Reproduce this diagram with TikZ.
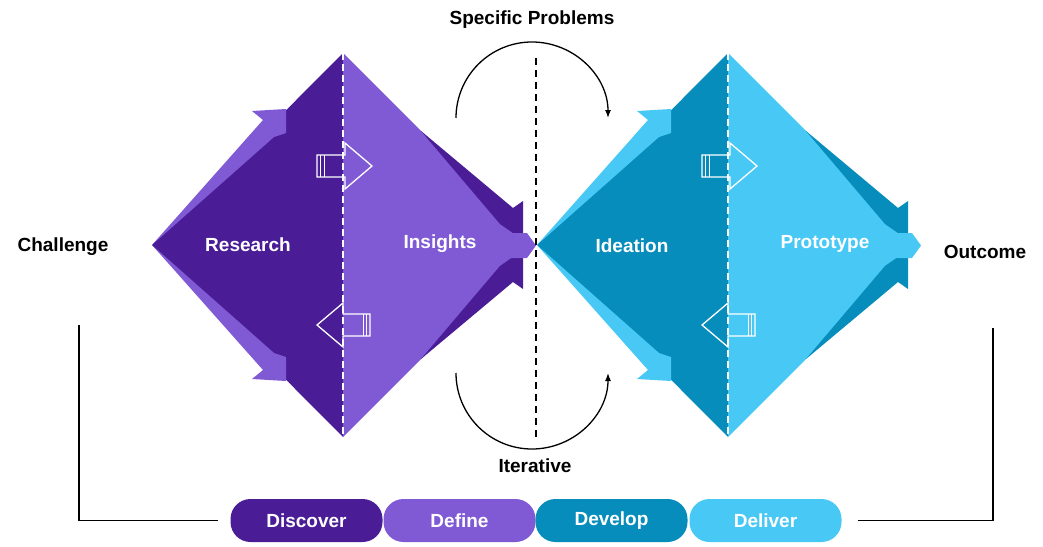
\documentclass[tikz,border=0pt]{standalone}
\usepackage{fontspec}
\setmainfont{Liberation Sans}
\usetikzlibrary{arrows.meta}

\definecolor{dpurple}{HTML}{4A1D96}
\definecolor{lpurple}{HTML}{805AD5}
\definecolor{dteal}{HTML}{068DBB}
\definecolor{lcyan}{HTML}{48C8F5}

% one diamond: #1 = colour of the first half, #2 = colour of the second half
\newcommand{\ddiamond}[2]{%
\fill[#1](152,245)--(343,53)--(343,437)--cycle;
\fill[#2](343,53)--(535,245)--(343,437)--cycle;
\fill[#2](152,245)--(263,120)--(252,111)--(286,109)--(286,133)--(274,137)--cycle;
\fill[#2](152,245)--(263,370)--(252,379)--(286,381)--(286,357)--(274,353)--cycle;
\fill[#1](421,131)--(513,208)--(523,201)--(523,240)--(500,224)--cycle;
\fill[#1](421,359)--(513,282)--(523,289)--(523,250)--(500,266)--cycle;
\fill[#2](480,233)--(527,233)--(536,245.5)--(527,258)--(480,258)--cycle;
\draw[white,line width=1.8pt,dash pattern=on 7pt off 4pt](343,53)--(343,437);
\draw[blockarr](317,155)--(345,155)--(345,143)--(372,166)--(345,189)--(345,177)--(317,177)--cycle;
\draw[blockarr,line width=0.9pt](320.5,155)--(320.5,177)(324,155)--(324,177);
\draw[blockarr](317,325)--(343,303)--(343,314)--(370,314)--(370,336)--(343,336)--(343,347)--cycle;
\draw[blockarr,line width=0.9pt](366.5,314)--(366.5,336)(363,314)--(363,336);
}

\begin{document}
\begin{tikzpicture}[x=1pt,y=-1pt,>={Latex[length=8pt,width=6pt]},
  blockarr/.style={white,line width=1.3pt,line join=miter},
  lbl/.style={white,font=\fontsize{19}{22}\selectfont\bfseries},
  side/.style={black,font=\fontsize{19}{22}\selectfont\bfseries},
  pill/.style={rectangle,rounded corners=20pt,minimum width=152pt,minimum height=43pt,
    inner sep=0pt,text=white,font=\fontsize{19}{22}\selectfont\bfseries}]
\useasboundingbox(0,0)rectangle(1043,546);

\ddiamond{dpurple}{lpurple}
\begin{scope}[xshift=385pt]
\ddiamond{dteal}{lcyan}
\end{scope}

\node[lbl](research)at(248,245){Research};
\node[lbl](insights)at(440,244){Insights};
\node[lbl](ideation)at(632,246){Ideation};
\node[lbl](prototype)at(825,244){Prototype};

\node[side](challenge)at(63,247){Challenge};
\node[side](outcome)at(985,252){Outcome};
\node[side](specific)at(532,20){Specific Problems};
\node[side](iterative)at(535,466){Iterative};

\draw[line width=1.5pt,dash pattern=on 7pt off 5pt](536,58)--(536,438);
\coordinate(arctop)at(456,118);
\coordinate(arcbot)at(456,373);
\draw[line width=1.3pt,->](arctop)arc[start angle=180,end angle=360,radius=76];
\draw[line width=1.3pt,->](arcbot)arc[start angle=180,end angle=0,radius=76];

\node[pill,fill=dpurple](discover)at(306.5,520.5){Discover};
\node[pill,fill=lpurple](define)at(459.5,520.5){Define};
\node[pill,fill=dteal](develop)at(611.5,520.5){Develop};
\node[pill,fill=lcyan](deliver)at(765.5,520.5){Deliver};

\coordinate(lbrk)at(79,325);
\coordinate(rbrk)at(993,328);
\draw[line width=1.3pt](lbrk)|-([xshift=-12pt]discover.west);
\draw[line width=1.3pt](rbrk)|-([xshift=16pt]deliver.east);
\end{tikzpicture}
\end{document}
